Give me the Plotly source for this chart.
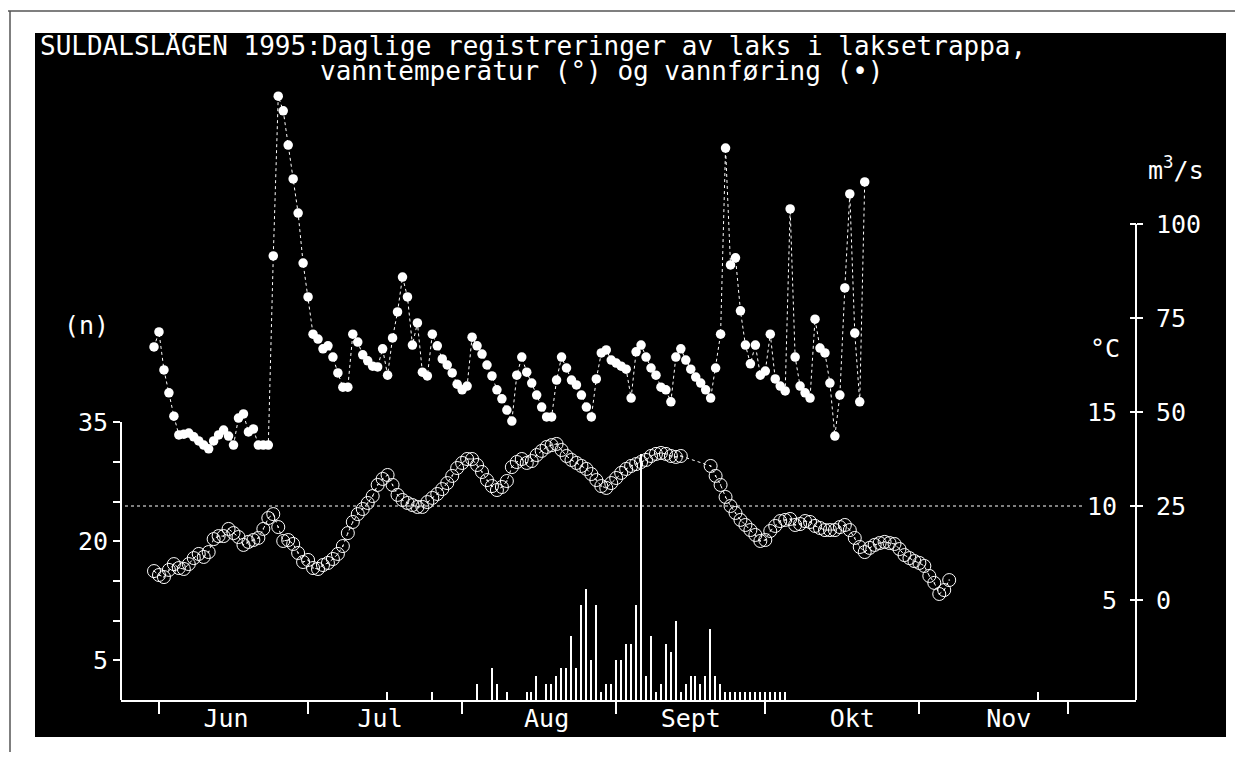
import plotly.graph_objects as go

# ---------------- data ----------------
# day index: 0 = 31 May 1995 (first day with discharge / temperature)
discharge_start_day = 0
discharge_m3s = [
    67.3, 71.3, 61.2, 55.1, 48.9, 43.9, 44.1, 44.4, 43.4, 42.3,
    41.2, 40.2, 42.3, 43.9, 45.2, 43.6, 41.2, 48.4, 49.5, 44.7,
    45.5, 41.2, 41.2, 41.2, 91.5, 134.0, 130.1, 121.0, 112.0, 102.9,
    89.6, 80.6, 70.7, 69.4, 66.8, 67.6, 64.6, 60.4, 56.6, 56.6,
    70.7, 68.6, 65.2, 63.6, 62.2, 62.0, 66.8, 59.8, 69.7, 76.6,
    85.9, 80.6, 67.8, 73.7, 60.6, 59.6, 70.7, 67.6, 64.1, 62.5,
    60.4, 57.4, 55.9, 56.9, 69.9, 67.6, 65.4, 62.5, 59.6, 55.9,
    53.5, 50.5, 47.6, 59.8, 64.6, 60.6, 57.7, 54.5, 51.3, 48.7,
    48.7, 58.5, 64.6, 61.7, 58.5, 57.2, 54.5, 51.3, 48.7, 58.8,
    65.7, 66.5, 63.8, 63.0, 62.2, 61.4, 53.7, 66.0, 67.8, 64.6,
    61.7, 59.8, 56.6, 55.9, 52.7, 64.6, 66.8, 63.8, 61.4, 59.3,
    57.7, 55.9, 53.7, 61.7, 70.7, 120.2, 89.1, 91.0, 76.9, 67.8,
    62.8, 67.8, 59.8, 60.9, 70.7, 58.8, 56.9, 55.6, 104.0, 64.6,
    56.9, 55.1, 53.7, 74.7, 67.0, 65.7, 57.7, 43.6, 54.5, 83.0,
    108.0, 71.0, 52.7, 111.2,
]

temperature_start_day = 0
temperature_c = [
    6.54, 6.33, 6.22, 6.60, 6.91, 6.70, 6.65, 6.91, 7.23, 7.45,
    7.29, 7.55, 8.24, 8.40, 8.40, 8.78, 8.56, 8.35, 7.93, 8.09,
    8.19, 8.30, 8.78, 9.36, 9.57, 8.88, 8.14, 8.19, 7.98, 7.50,
    7.02, 7.13, 6.70, 6.65, 6.86, 6.97, 7.18, 7.45, 7.87, 8.56,
    9.15, 9.57, 9.84, 10.16, 10.53, 11.12, 11.44, 11.65, 11.12, 10.59,
    10.32, 10.16, 10.05, 9.95, 9.95, 10.21, 10.43, 10.64, 10.90, 11.22,
    11.60, 12.02, 12.29, 12.50, 12.50, 12.18, 11.81, 11.38, 11.06, 10.85,
    11.01, 11.33, 12.07, 12.34, 12.50, 12.29, 12.39, 12.71, 12.93, 13.14,
    13.24, 13.30, 12.98, 12.66, 12.45, 12.29, 12.13, 11.97, 11.70, 11.38,
    11.06, 10.96, 11.22, 11.49, 11.76, 11.97, 12.13, 12.23, 12.34, 12.45,
    12.66, 12.77, 12.82, 12.77, 12.66, 12.61, 12.66, None, None, None,
    None, None, 12.13, 11.60, 11.12, 10.48, 10.00, 9.63, 9.26, 8.99,
    8.72, 8.46, 8.14, 8.19, 8.67, 8.94, 9.20, 9.26, 9.31, 8.99,
    9.04, 9.20, 9.15, 8.94, 8.83, 8.72, 8.72, 8.72, 8.88, 8.99,
    8.72, 8.30, 7.82, 7.55, 7.77, 7.93, 8.03, 8.09, 8.03, 7.98,
    7.71, 7.39, 7.23, 7.07, 6.97, 6.81, 6.28, 5.91, 5.32, 5.53,
    6.06,
]

fish_days = [47, 56, 65, 68, 69, 71, 75, 76, 77, 79, 80, 81, 82, 83, 84, 85,
             86, 87, 88, 89, 90, 91, 92, 93, 94, 95, 96, 97, 98, 99, 100,
             101, 102, 103, 104, 105, 106, 107, 108, 109, 110, 111, 112,
             113, 114, 115, 116, 117, 118, 119, 120, 121, 122, 123, 124,
             125, 126, 127, 178]
fish_counts = [1, 1, 2, 4, 2, 1, 1, 1, 3, 2, 2, 3, 4, 4, 8, 4,
               12, 14, 5, 12, 1, 2, 2, 5, 5, 7, 7, 12, 31, 3, 8,
               1, 2, 7, 6, 10, 1, 2, 3, 3, 2, 3, 9,
               3, 2, 1, 1, 1, 1, 1, 1, 1, 1, 1, 1,
               1, 1, 1, 1]

temp_ref_line_c = 10
month_boundary_days = [1, 31, 62, 93, 123, 154, 184]
month_labels = ["Jun", "Jul", "Aug", "Sept", "Okt", "Nov"]
month_label_days = [14.5, 45.5, 79, 108, 140.5, 172]
n_ticks = [5, 10, 15, 20, 25, 30, 35]
n_ticktext = ["5", "", "", "20", "", "", "35"]
q_ticks = [0, 25, 50, 75, 100]
t_ticks = [5, 10, 15, 20, 25]
t_ticktext = ["5", "10", "15", "", ""]

# ---------------- layout geometry (reference-window pixels) ----------------
OFF = 8                       # page body margin of the html page
W, H = 1243 - 2 * OFF, 760 - 2 * OFF
L, R, T, B = 121, 1136, 80, 700
X0, PXD = 154, 4.97          # pixel of day 0, pixels per day
QPX, Q0Y = 3.76, 600         # px per m3/s, pixel of 0 m3/s
NPX = 7.94                   # px per fish

xmin = (L - X0) / PXD
xmax = (R - X0) / PXD
qmin = -(B - Q0Y) / QPX
qmax = (Q0Y - T) / QPX
tmin = 5 + qmin / 5
tmax = 5 + qmax / 5
nmax = (B - T) / NPX


def fx(x):
    return (x - L) / (R - L)


def fy(y):
    return (B - y) / (B - T)


FONT = "DejaVu Sans Mono"
FS = 25
WHITE = "white"

fig = go.Figure()

fig.add_trace(go.Bar(
    x=fish_days, y=fish_counts, yaxis="y3", xaxis="x",
    width=0.3, marker=dict(color=WHITE, line=dict(width=0)),
    showlegend=False,
))

temp_days = [temperature_start_day + i for i in range(len(temperature_c))]
fig.add_trace(go.Scatter(
    x=temp_days, y=temperature_c, yaxis="y2", mode="lines+markers",
    connectgaps=True,
    line=dict(color=WHITE, width=1, dash="dot"),
    marker=dict(symbol="circle-open-dot", size=13, color=WHITE,
                line=dict(color=WHITE, width=1)),
    showlegend=False, cliponaxis=False,
))

dis_days = [discharge_start_day + i for i in range(len(discharge_m3s))]
fig.add_trace(go.Scatter(
    x=dis_days, y=discharge_m3s, yaxis="y", mode="lines+markers",
    line=dict(color=WHITE, width=1, dash="dot"),
    marker=dict(symbol="circle", size=9.5, color=WHITE),
    showlegend=False, cliponaxis=False,
))

# invisible trace so that the month-label axis is drawn
fig.add_trace(go.Scatter(
    x=[xmin], y=[None], xaxis="x2", yaxis="y", mode="markers",
    marker=dict(opacity=0), showlegend=False, hoverinfo="skip",
))

shapes = [
    # black panel
    dict(type="rect", xref="paper", yref="paper", x0=fx(35), x1=fx(1226),
         y0=fy(737), y1=fy(33), fillcolor="black", line=dict(width=0),
         layer="below"),
    # scan frame lines
    dict(type="line", xref="paper", yref="paper", x0=fx(0), x1=fx(1243),
         y0=fy(11), y1=fy(11), line=dict(color="#555", width=1.5)),
    dict(type="line", xref="paper", yref="paper", x0=fx(10), x1=fx(10),
         y0=fy(11), y1=fy(760), line=dict(color="#555", width=1.5)),
    # dotted 10 degree line
    dict(type="line", xref="paper", yref="y2", x0=fx(125), x1=fx(1085),
         y0=temp_ref_line_c, y1=temp_ref_line_c,
         line=dict(color=WHITE, width=1, dash="dot"), layer="below"),
    # left axis line (n)
    dict(type="line", xref="paper", yref="y3", x0=0, x1=0, y0=0, y1=35,
         line=dict(color=WHITE, width=2)),
    # right axis line
    dict(type="line", xref="paper", yref="y", x0=1, x1=1, y0=qmin, y1=100,
         line=dict(color=WHITE, width=2)),
]

annotations = [
    dict(text="SULDALSLÅGEN 1995:Daglige registreringer av laks i laksetrappa,",
         xref="paper", yref="paper", x=fx(38), y=fy(46), xanchor="left",
         yanchor="middle", showarrow=False, font=dict(family=FONT, size=26, color=WHITE)),
    dict(text="vanntemperatur (°) og vannføring (•)",
         xref="paper", yref="paper", x=fx(318), y=fy(71), xanchor="left",
         yanchor="middle", showarrow=False, font=dict(family=FONT, size=26, color=WHITE)),
    dict(text="(n)", xref="paper", yref="paper", x=fx(62), y=fy(325),
         xanchor="left", yanchor="middle", showarrow=False,
         font=dict(family=FONT, size=FS, color=WHITE)),
    dict(text="m<sup>3</sup>/s", xref="paper", yref="paper", x=fx(1146), y=fy(168),
         xanchor="left", yanchor="middle", showarrow=False,
         font=dict(family=FONT, size=FS, color=WHITE)),
    dict(text="°C", xref="paper", yref="paper", x=fx(1088), y=fy(348),
         xanchor="left", yanchor="middle", showarrow=False,
         font=dict(family=FONT, size=FS, color=WHITE)),
]

fig.update_layout(
    width=W, height=H,
    margin=dict(l=L - OFF, r=(W + OFF) - R, t=T - OFF, b=(H + OFF) - B,
                pad=0, autoexpand=False),
    paper_bgcolor="white", plot_bgcolor="rgba(0,0,0,0)",
    showlegend=False, bargap=0,
    shapes=shapes, annotations=annotations,
    xaxis=dict(range=[xmin, xmax], tickvals=month_boundary_days,
               showticklabels=False, ticks="outside", ticklen=12, tickwidth=2,
               tickcolor=WHITE, showline=True, linecolor=WHITE, linewidth=2,
               showgrid=False, zeroline=False, automargin=False),
    xaxis2=dict(range=[xmin, xmax], overlaying="x", anchor="y", side="bottom",
                tickvals=month_label_days, ticktext=month_labels, ticks="",
                ticklabelstandoff=1,
                tickfont=dict(family=FONT, size=FS, color=WHITE),
                showline=False, showgrid=False, zeroline=False, automargin=False),
    yaxis=dict(range=[qmin, qmax], side="right", tickvals=q_ticks,
               ticks="outside", ticklen=6, tickwidth=2, tickcolor=WHITE,
               ticklabelstandoff=8,
               tickfont=dict(family=FONT, size=FS, color=WHITE),
               showline=False, showgrid=False, zeroline=False, automargin=False),
    yaxis2=dict(range=[tmin, tmax], side="right", overlaying="y",
                tickvals=t_ticks, ticktext=t_ticktext,
                ticks="inside", ticklen=6, tickwidth=2, tickcolor=WHITE,
                ticklabelposition="inside", ticklabelstandoff=15,
                tickfont=dict(family=FONT, size=FS, color=WHITE),
                showline=False, showgrid=False, zeroline=False, automargin=False),
    yaxis3=dict(range=[0, nmax], side="left", overlaying="y",
                tickvals=n_ticks, ticktext=n_ticktext,
                ticks="outside", ticklen=7, tickwidth=2, tickcolor=WHITE,
                ticklabelstandoff=0,
                tickfont=dict(family=FONT, size=FS, color=WHITE),
                showline=False, showgrid=False, zeroline=False, automargin=False),
)

fig.write_html("out.html")
